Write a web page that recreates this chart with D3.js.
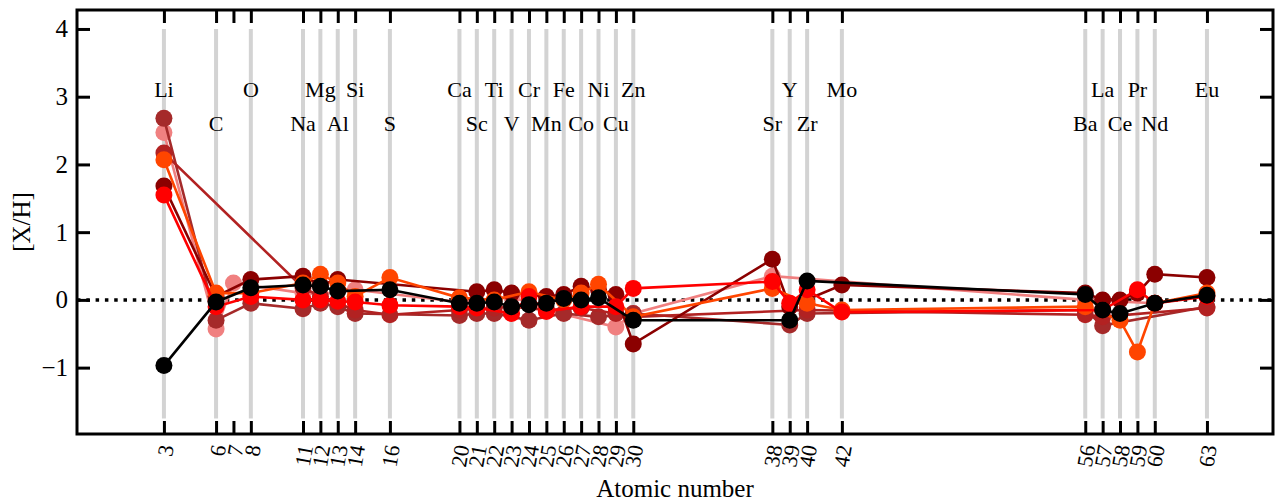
<!DOCTYPE html>
<html>
<head>
<meta charset="utf-8">
<script src="https://cdn.jsdelivr.net/npm/d3@7"></script>
<style>
  body { margin: 0; background: #fff; }
  svg { display: block; }
  text { font-family: "Liberation Serif", "Times New Roman", serif; fill: #000; }
</style>
</head>
<body>
<svg id="chart" width="1277" height="501"></svg>
<script>
// atomic numbers on the x axis (N = 7 has a tick but no label or guide line)
var atomicNumbers = [3, 6, 7, 8, 11, 12, 13, 14, 16, 20, 21, 22, 23, 24, 25, 26, 27, 28, 29, 30, 38, 39, 40, 42, 56, 57, 58, 59, 60, 63];
var labelledNumbers = [3, 6, 8, 11, 12, 13, 14, 16, 20, 21, 22, 23, 24, 25, 26, 27, 28, 29, 30, 38, 39, 40, 42, 56, 57, 58, 59, 60, 63];
var symbols = ['Li', 'C', 'O', 'Na', 'Mg', 'Al', 'Si', 'S', 'Ca', 'Sc', 'Ti', 'V', 'Cr', 'Mn', 'Fe', 'Co', 'Ni', 'Cu', 'Zn', 'Sr', 'Y', 'Zr', 'Mo', 'Ba', 'La', 'Ce', 'Pr', 'Nd', 'Eu'];
var yTicks = [-1, 0, 1, 2, 3, 4];

// [X/H] per star, aligned with atomicNumbers (null = not measured)
var lightcoralStar = [2.47, -0.43, 0.25, null, 0.10, 0.08, null, 0.15, null, -0.03, null, null, 0.05, null, -0.15, null, null, null, -0.40, -0.20, 0.35, null, null, null, 0.00, null, null, null, -0.05, null];
var brownStar = [2.68, -0.30, null, -0.05, -0.13, -0.05, -0.10, -0.20, null, -0.23, -0.20, -0.20, null, -0.30, null, -0.20, null, -0.25, null, -0.20, null, -0.37, -0.20, null, -0.15, -0.38, null, null, null, -0.10];
var firebrickStar = [2.17, null, null, null, 0.18, 0.05, null, -0.15, -0.22, -0.15, null, -0.12, -0.10, null, -0.15, null, -0.12, null, -0.20, -0.25, null, null, -0.15, null, -0.22, -0.25, null, null, null, -0.12];
var darkredStar = [1.68, 0.05, null, 0.30, 0.35, 0.22, 0.30, null, null, null, 0.12, 0.15, 0.10, null, 0.05, 0.08, 0.20, 0.15, 0.08, -0.65, 0.60, -0.10, null, 0.22, 0.10, 0.00, 0.00, 0.10, 0.38, 0.33];
var orangeredStar = [2.07, 0.10, null, 0.10, 0.25, 0.38, 0.25, 0.05, 0.33, 0.03, null, 0.00, null, 0.12, null, 0.00, 0.10, 0.23, null, -0.25, 0.17, null, -0.05, -0.15, -0.10, null, -0.30, -0.77, -0.05, 0.10];
var redStar = [1.55, -0.10, null, 0.05, 0.00, 0.00, -0.02, -0.03, -0.08, -0.10, -0.12, null, -0.20, 0.05, -0.17, null, -0.10, null, -0.10, 0.17, 0.27, -0.05, 0.15, -0.18, null, -0.15, null, 0.15, -0.05, 0.05];
var blackStar = [-0.97, -0.03, null, 0.18, 0.22, 0.20, 0.13, null, 0.15, -0.05, -0.05, -0.03, -0.10, -0.07, -0.05, 0.02, 0.00, 0.03, null, -0.30, null, -0.30, 0.28, null, 0.08, -0.15, -0.20, null, -0.05, 0.07];

var stars = [lightcoralStar, brownStar, firebrickStar, darkredStar, orangeredStar, redStar, blackStar];
var starColors = ['#f08080', '#a52a2a', '#b22222', '#8b0000', '#ff4500', '#ff0000', '#000000'];

var svg = d3.select('#chart');
var margin = {top: 10, right: 4, bottom: 67, left: 77};
var W = +svg.attr('width'), H = +svg.attr('height');

var x = d3.scaleLinear().domain([-2, 66.8]).range([margin.left, W - margin.right]);
var y = d3.scaleLinear().domain([-1.98, 4.28]).range([H - margin.bottom, margin.top]);

// grey guide lines for each labelled element
svg.append('g').selectAll('line')
  .data(labelledNumbers)
  .enter().append('line')
  .attr('x1', function(z) { return x(z); })
  .attr('x2', function(z) { return x(z); })
  .attr('y1', y(4.0))
  .attr('y2', y(-1.75))
  .attr('stroke', '#d3d3d3')
  .attr('stroke-width', 4);

// element symbols, alternating between two rows
svg.append('g').selectAll('text')
  .data(symbols)
  .enter().append('text')
  .attr('x', function(s, i) { return x(labelledNumbers[i]); })
  .attr('y', function(s, i) { return y(i % 2 === 0 ? 3.0 : 2.5); })
  .attr('text-anchor', 'middle')
  .style('font-size', '22px')
  .text(function(s) { return s; });

// solar reference line
svg.append('line')
  .attr('x1', x.range()[0]).attr('x2', x.range()[1])
  .attr('y1', y(0)).attr('y2', y(0))
  .attr('stroke', '#000')
  .attr('stroke-width', 3.5)
  .attr('stroke-dasharray', '3.5,5.8');

// stars: lines then markers
var line = d3.line()
  .x(function(d) { return x(d.z); })
  .y(function(d) { return y(d.v); });

stars.forEach(function(vals, k) {
  var pts = [];
  vals.forEach(function(v, i) {
    if (v !== null) pts.push({z: atomicNumbers[i], v: v});
  });
  var g = svg.append('g');
  g.append('path')
    .attr('d', line(pts))
    .attr('fill', 'none')
    .attr('stroke', starColors[k])
    .attr('stroke-width', 2.6);
  g.selectAll('circle')
    .data(pts)
    .enter().append('circle')
    .attr('cx', function(d) { return x(d.z); })
    .attr('cy', function(d) { return y(d.v); })
    .attr('r', 8.5)
    .attr('fill', starColors[k]);
});

// axes, ticks pointing inwards on all four sides
function styleAxis(g) {
  g.select('.domain').remove();
  g.selectAll('.tick line').attr('stroke', '#000').attr('stroke-width', 3);
}

var bottom = svg.append('g')
  .attr('transform', 'translate(0,' + (H - margin.bottom) + ')')
  .call(d3.axisBottom(x).tickValues(atomicNumbers).tickSize(-13).tickSizeOuter(0).tickFormat(d3.format('d')))
  .call(styleAxis);
bottom.selectAll('.tick text')
  .attr('x', 0).attr('y', 0).attr('dy', '0.35em')
  .attr('transform', 'translate(2,11) rotate(-80)')
  .style('text-anchor', 'end')
  .style('font-size', '22px');

svg.append('g')
  .attr('transform', 'translate(0,' + margin.top + ')')
  .call(d3.axisTop(x).tickValues(atomicNumbers).tickSize(-13).tickSizeOuter(0).tickFormat(''))
  .call(styleAxis);

var left = svg.append('g')
  .attr('transform', 'translate(' + margin.left + ',0)')
  .call(d3.axisLeft(y).tickValues(yTicks).tickSize(-13).tickSizeOuter(0).tickPadding(9).tickFormat(d3.format('d')))
  .call(styleAxis);
left.selectAll('.tick text')
  .style('font-size', '25px');

svg.append('g')
  .attr('transform', 'translate(' + (W - margin.right) + ',0)')
  .call(d3.axisRight(y).tickValues(yTicks).tickSize(-13).tickSizeOuter(0).tickFormat(''))
  .call(styleAxis);

// frame
svg.append('rect')
  .attr('x', margin.left).attr('y', margin.top)
  .attr('width', W - margin.left - margin.right)
  .attr('height', H - margin.top - margin.bottom)
  .attr('fill', 'none')
  .attr('stroke', '#000')
  .attr('stroke-width', 3);

// axis titles
svg.append('text')
  .attr('transform', 'translate(21,' + ((margin.top + H - margin.bottom) / 2) + ') rotate(-90)')
  .attr('text-anchor', 'middle')
  .attr('dy', '0.35em')
  .style('font-size', '25px')
  .text('[X/H]');

svg.append('text')
  .attr('x', (margin.left + W - margin.right) / 2)
  .attr('y', 497)
  .attr('text-anchor', 'middle')
  .style('font-size', '25px')
  .text('Atomic number');
</script>
</body>
</html>
